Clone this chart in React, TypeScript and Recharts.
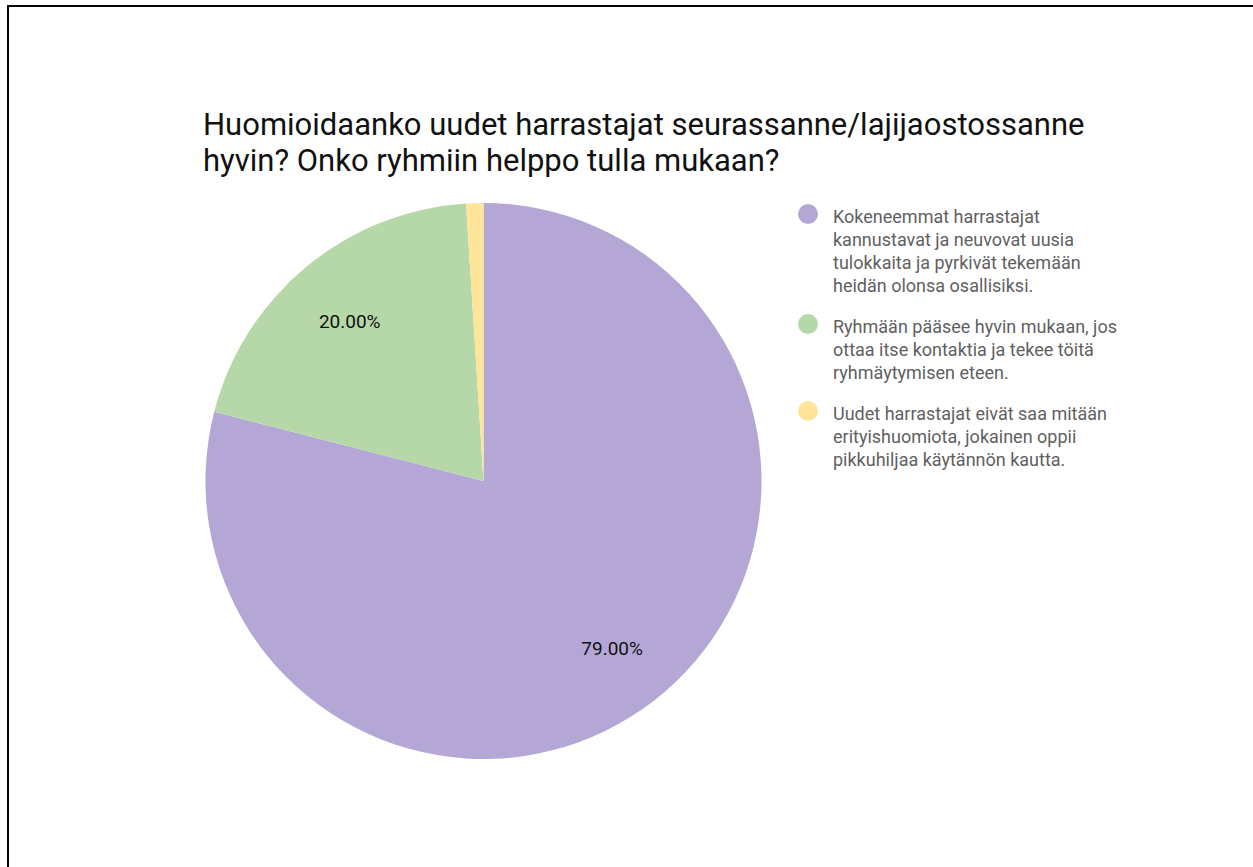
import React from 'react';
import { PieChart, Pie, Cell, Legend } from 'recharts';

const answers = [
  'Kokeneemmat harrastajat kannustavat ja neuvovat uusia tulokkaita ja pyrkivät tekemään heidän olonsa osallisiksi.',
  'Ryhmään pääsee hyvin mukaan, jos ottaa itse kontaktia ja tekee töitä ryhmäytymisen eteen.',
  'Uudet harrastajat eivät saa mitään erityishuomiota, jokainen oppii pikkuhiljaa käytännön kautta.',
];
const shares = [79, 20, 1];
const colors = ['#b4a7d6', '#b6d7a8', '#ffe599'];
const title = 'Huomioidaanko uudet harrastajat seurassanne/lajijaostossanne hyvin? Onko ryhmiin helppo tulla mukaan?';

const data = answers.map((name, i) => ({ name, value: shares[i] }));

const RAD = Math.PI / 180;
const font = 'Roboto, "Noto Sans", sans-serif';

const renderLabel = (p: any) => {
  if (p.percent < 0.05) return null;
  const r = p.outerRadius * 0.755;
  const x = p.cx + r * Math.cos(-p.midAngle * RAD);
  const y = p.cy + r * Math.sin(-p.midAngle * RAD);
  return (
    <text x={x} y={y + 2} textAnchor="middle" dominantBaseline="central" fill="#111" fontSize={19} fontFamily={font}>
      {(p.percent * 100).toFixed(2)}%
    </text>
  );
};

const renderLegend = (props: any) => (
  <div style={{ fontFamily: font, fontSize: 18, lineHeight: '23px', color: '#5f5f5f' }}>
    {(props.payload || []).map((e: any, i: number) => (
      <div key={i} style={{ display: 'flex', alignItems: 'flex-start', marginBottom: 18 }}>
        <span style={{ width: 20, height: 20, borderRadius: 10, background: e.color, flex: 'none', marginTop: -1 }} />
        <span style={{ marginLeft: 15, width: 288 }}>{e.value}</span>
      </div>
    ))}
  </div>
);

export default function App() {
  return (
    <div style={{ position: 'fixed', left: 0, top: 0, width: 1253, height: 867, background: '#fff' }}>
      <div style={{ position: 'absolute', left: 7, top: 5, width: 1246, height: 862, borderLeft: '2px solid #000', borderTop: '2px solid #000' }} />
      <div style={{ position: 'absolute', left: 203, top: 107, width: 920, fontFamily: font, fontSize: 31, lineHeight: '36px', color: '#111' }}>
        {title}
      </div>
      <div style={{ position: 'absolute', left: 0, top: 0 }}>
        <PieChart width={1253} height={867} margin={{ top: 0, right: 0, bottom: 0, left: 0 }}>
          <Pie
            data={data}
            dataKey="value"
            nameKey="name"
            cx={483.5}
            cy={481}
            outerRadius={278}
            startAngle={90}
            endAngle={-270}
            stroke="none"
            label={renderLabel}
            labelLine={false}
            isAnimationActive={false}
          >
            {data.map((d, i) => (
              <Cell key={d.name} fill={colors[i]} />
            ))}
          </Pie>
          <Legend
            layout="vertical"
            verticalAlign="top"
            align="right"
            content={renderLegend}
            wrapperStyle={{ position: 'absolute', left: 798, top: 205, width: 340 }}
          />
        </PieChart>
      </div>
    </div>
  );
}
